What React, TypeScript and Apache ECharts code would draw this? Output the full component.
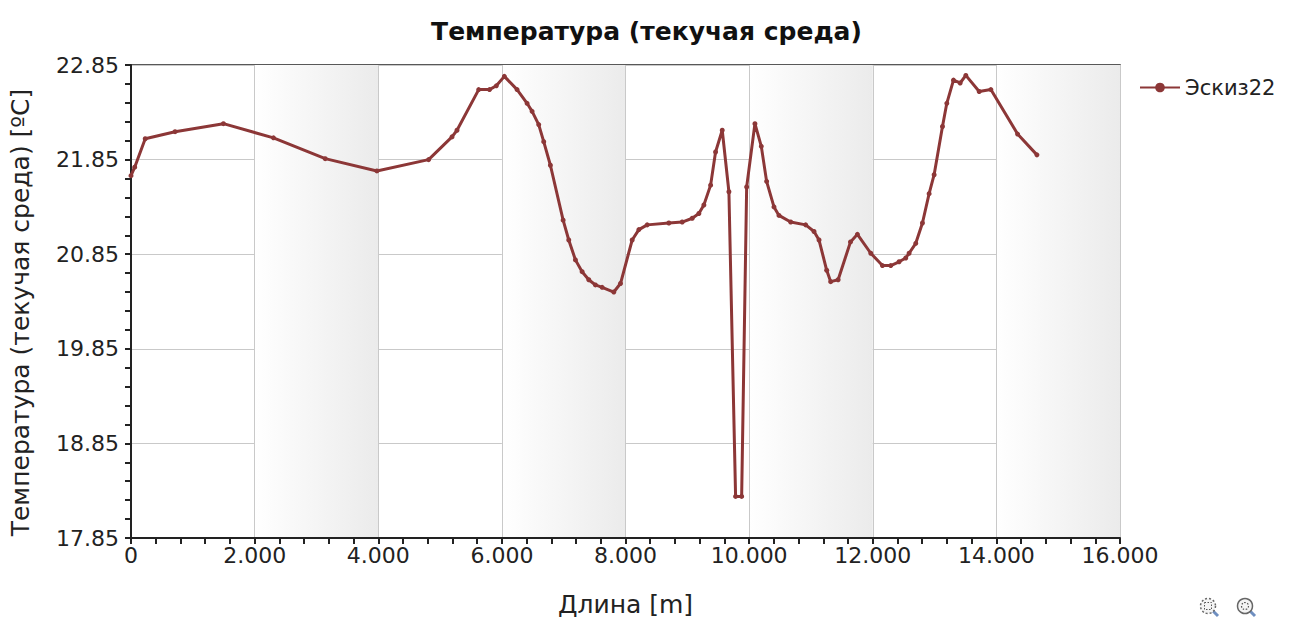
import React, { useEffect, useRef } from "react";
import * as echarts from "echarts";

const distances = [
  0, 60, 230, 713, 1495, 2305, 3142, 3978, 4815, 5193,
  5274, 5625, 5800, 5910, 6040, 6246, 6408, 6489, 6596, 6677,
  6785, 6991, 7082, 7190, 7298, 7406, 7514, 7622, 7811, 7919,
  8108, 8216, 8351, 8701, 8918, 9080, 9187, 9268, 9377, 9457,
  9565, 9673, 9781, 9879, 9960, 10094, 10197, 10283, 10402, 10483,
  10672, 10915, 11050, 11131, 11255, 11320, 11440, 11640, 11752, 11968,
  12157, 12291, 12426, 12534, 12588, 12696, 12804, 12912, 12993, 13128,
  13198, 13306, 13414, 13506, 13722, 13911, 14343, 14656,
];

const temperatures = [
  21.68, 21.77, 22.07, 22.145, 22.23, 22.08, 21.86, 21.73, 21.85, 22.09,
  22.16, 22.59, 22.59, 22.63, 22.73, 22.59, 22.445, 22.36, 22.22, 22.04,
  21.79, 21.21, 21.0, 20.79, 20.665, 20.58, 20.525, 20.5, 20.45, 20.54,
  21.0, 21.11, 21.16, 21.18, 21.19, 21.23, 21.28, 21.37, 21.58, 21.93,
  22.16, 21.51, 18.29, 18.29, 21.56, 22.23, 21.99, 21.62, 21.35, 21.26,
  21.19, 21.16, 21.09, 21.0, 20.68, 20.56, 20.58, 20.98, 21.06, 20.86,
  20.73, 20.73, 20.77, 20.81, 20.86, 20.965, 21.18, 21.49, 21.69, 22.2,
  22.445, 22.69, 22.66, 22.74, 22.57, 22.59, 22.12, 21.9,
];

const seriesName = "Эскиз22";
const titleText = "Температура (текучая среда)";
const xAxisName = "Длина [m]";
const yAxisName = "Температура (текучая среда) [ºC]";

// y-axis ticks: 17.85, 18.85, ... 22.85 (base offset + step)
const yBase = 17.85;
const yTickCount = 5;
const xMax = 16000;
const xStep = 2000;

const FONT = "DejaVu Sans";

function fmtThousands(v: number): string {
  if (v === 0) return "0";
  return String(Math.round(v)).replace(/\B(?=(\d{3})+(?!\d))/g, ".");
}

export default function App() {
  const ref = useRef<HTMLDivElement>(null);

  useEffect(() => {
    if (!ref.current) return;
    const chart = echarts.init(ref.current, undefined, { renderer: "svg" });

    const data = distances.map((d, i) => [d, temperatures[i] - yBase]);

    const bandGradient = {
      type: "linear",
      x: 0,
      y: 0,
      x2: 1,
      y2: 0,
      colorStops: [
        { offset: 0, color: "rgba(255,255,255,1)" },
        { offset: 1, color: "rgba(235,235,235,1)" },
      ],
    };

    const magnifier = (cx: number, cy: number, dotted: boolean) => ({
      type: "group",
      children: [
        {
          type: "line",
          shape: { x1: cx + 5, y1: cy + 5, x2: cx + 10, y2: cy + 10 },
          style: { stroke: "#6f8fc0", lineWidth: 3 },
        },
        {
          type: "circle",
          shape: { cx, cy, r: 7.5 },
          style: {
            fill: "#f4f4f4",
            stroke: "#666",
            lineWidth: 1.5,
            lineDash: dotted ? [2, 2] : undefined,
          },
        },
        dotted
          ? {
              type: "rect",
              shape: { x: cx - 3.5, y: cy - 3.5, width: 7, height: 7 },
              style: { fill: "none", stroke: "#555", lineWidth: 1, lineDash: [1.5, 1.5] },
            }
          : {
              type: "circle",
              shape: { cx, cy, r: 3.5 },
              style: { fill: "none", stroke: "#555", lineWidth: 1.2, lineDash: [1.5, 1.5] },
            },
      ],
    });

    chart.setOption({
      animation: false,
      backgroundColor: "#ffffff",
      title: {
        text: titleText,
        left: "center",
        top: 14,
        textStyle: { fontFamily: FONT, fontSize: 25, fontWeight: "bold", color: "#111" },
      },
      legend: {
        left: 1134,
        top: 72,
        itemWidth: 40,
        itemHeight: 12,
        data: [seriesName],
        textStyle: { fontFamily: FONT, fontSize: 21, color: "#222" },
      },
      grid: {
        left: 131,
        top: 65,
        right: 173,
        bottom: 85,
        show: true,
        borderColor: "#222",
        borderWidth: 1.5,
        backgroundColor: "transparent",
      },
      xAxis: {
        type: "value",
        min: 0,
        max: xMax,
        interval: xStep,
        name: xAxisName,
        nameLocation: "middle",
        nameGap: 54,
        nameTextStyle: { fontFamily: FONT, fontSize: 25, color: "#222" },
        axisLine: { show: true, lineStyle: { color: "#222", width: 2 } },
        axisTick: { show: true, length: 6, lineStyle: { color: "#222", width: 2 } },
        minorTick: { show: true, splitNumber: 5, length: 6, lineStyle: { color: "#222", width: 2 } },
        axisLabel: {
          fontFamily: FONT,
          fontSize: 22,
          color: "#222",
          margin: 6,
          formatter: (v: number) => fmtThousands(v),
        },
        splitLine: { show: true, lineStyle: { color: "#c9c9c9", width: 1 } },
        splitArea: {
          show: true,
          areaStyle: { color: ["rgba(255,255,255,0)", bandGradient] },
        },
      },
      yAxis: {
        type: "value",
        min: 0,
        max: yTickCount,
        interval: 1,
        name: yAxisName,
        nameLocation: "middle",
        nameGap: 98,
        nameTextStyle: {
          fontFamily: FONT,
          fontSize: 25,
          color: "#222",
          padding: [0, 22, 0, 0],
        },
        axisLine: { show: true, lineStyle: { color: "#222", width: 2 } },
        axisTick: { show: true, length: 6, lineStyle: { color: "#222", width: 2 } },
        minorTick: { show: true, splitNumber: 5, length: 6, lineStyle: { color: "#222", width: 2 } },
        axisLabel: {
          fontFamily: FONT,
          fontSize: 22,
          color: "#222",
          margin: 12,
          formatter: (v: number) => (v + yBase).toFixed(2),
        },
        splitLine: { show: true, lineStyle: { color: "#c9c9c9", width: 1 } },
      },
      series: [
        {
          name: seriesName,
          type: "line",
          data,
          symbol: "circle",
          symbolSize: 5,
          showAllSymbol: true,
          lineStyle: { color: "#8c3737", width: 3 },
          itemStyle: { color: "#8c3737" },
          z: 5,
        },
      ],
      graphic: [magnifier(1208, 606, true), magnifier(1245, 606, false)],
    });

    return () => chart.dispose();
  }, []);

  return (
    <div
      ref={ref}
      style={{ position: "fixed", left: 0, top: 0, width: 1293, height: 623 }}
    />
  );
}
